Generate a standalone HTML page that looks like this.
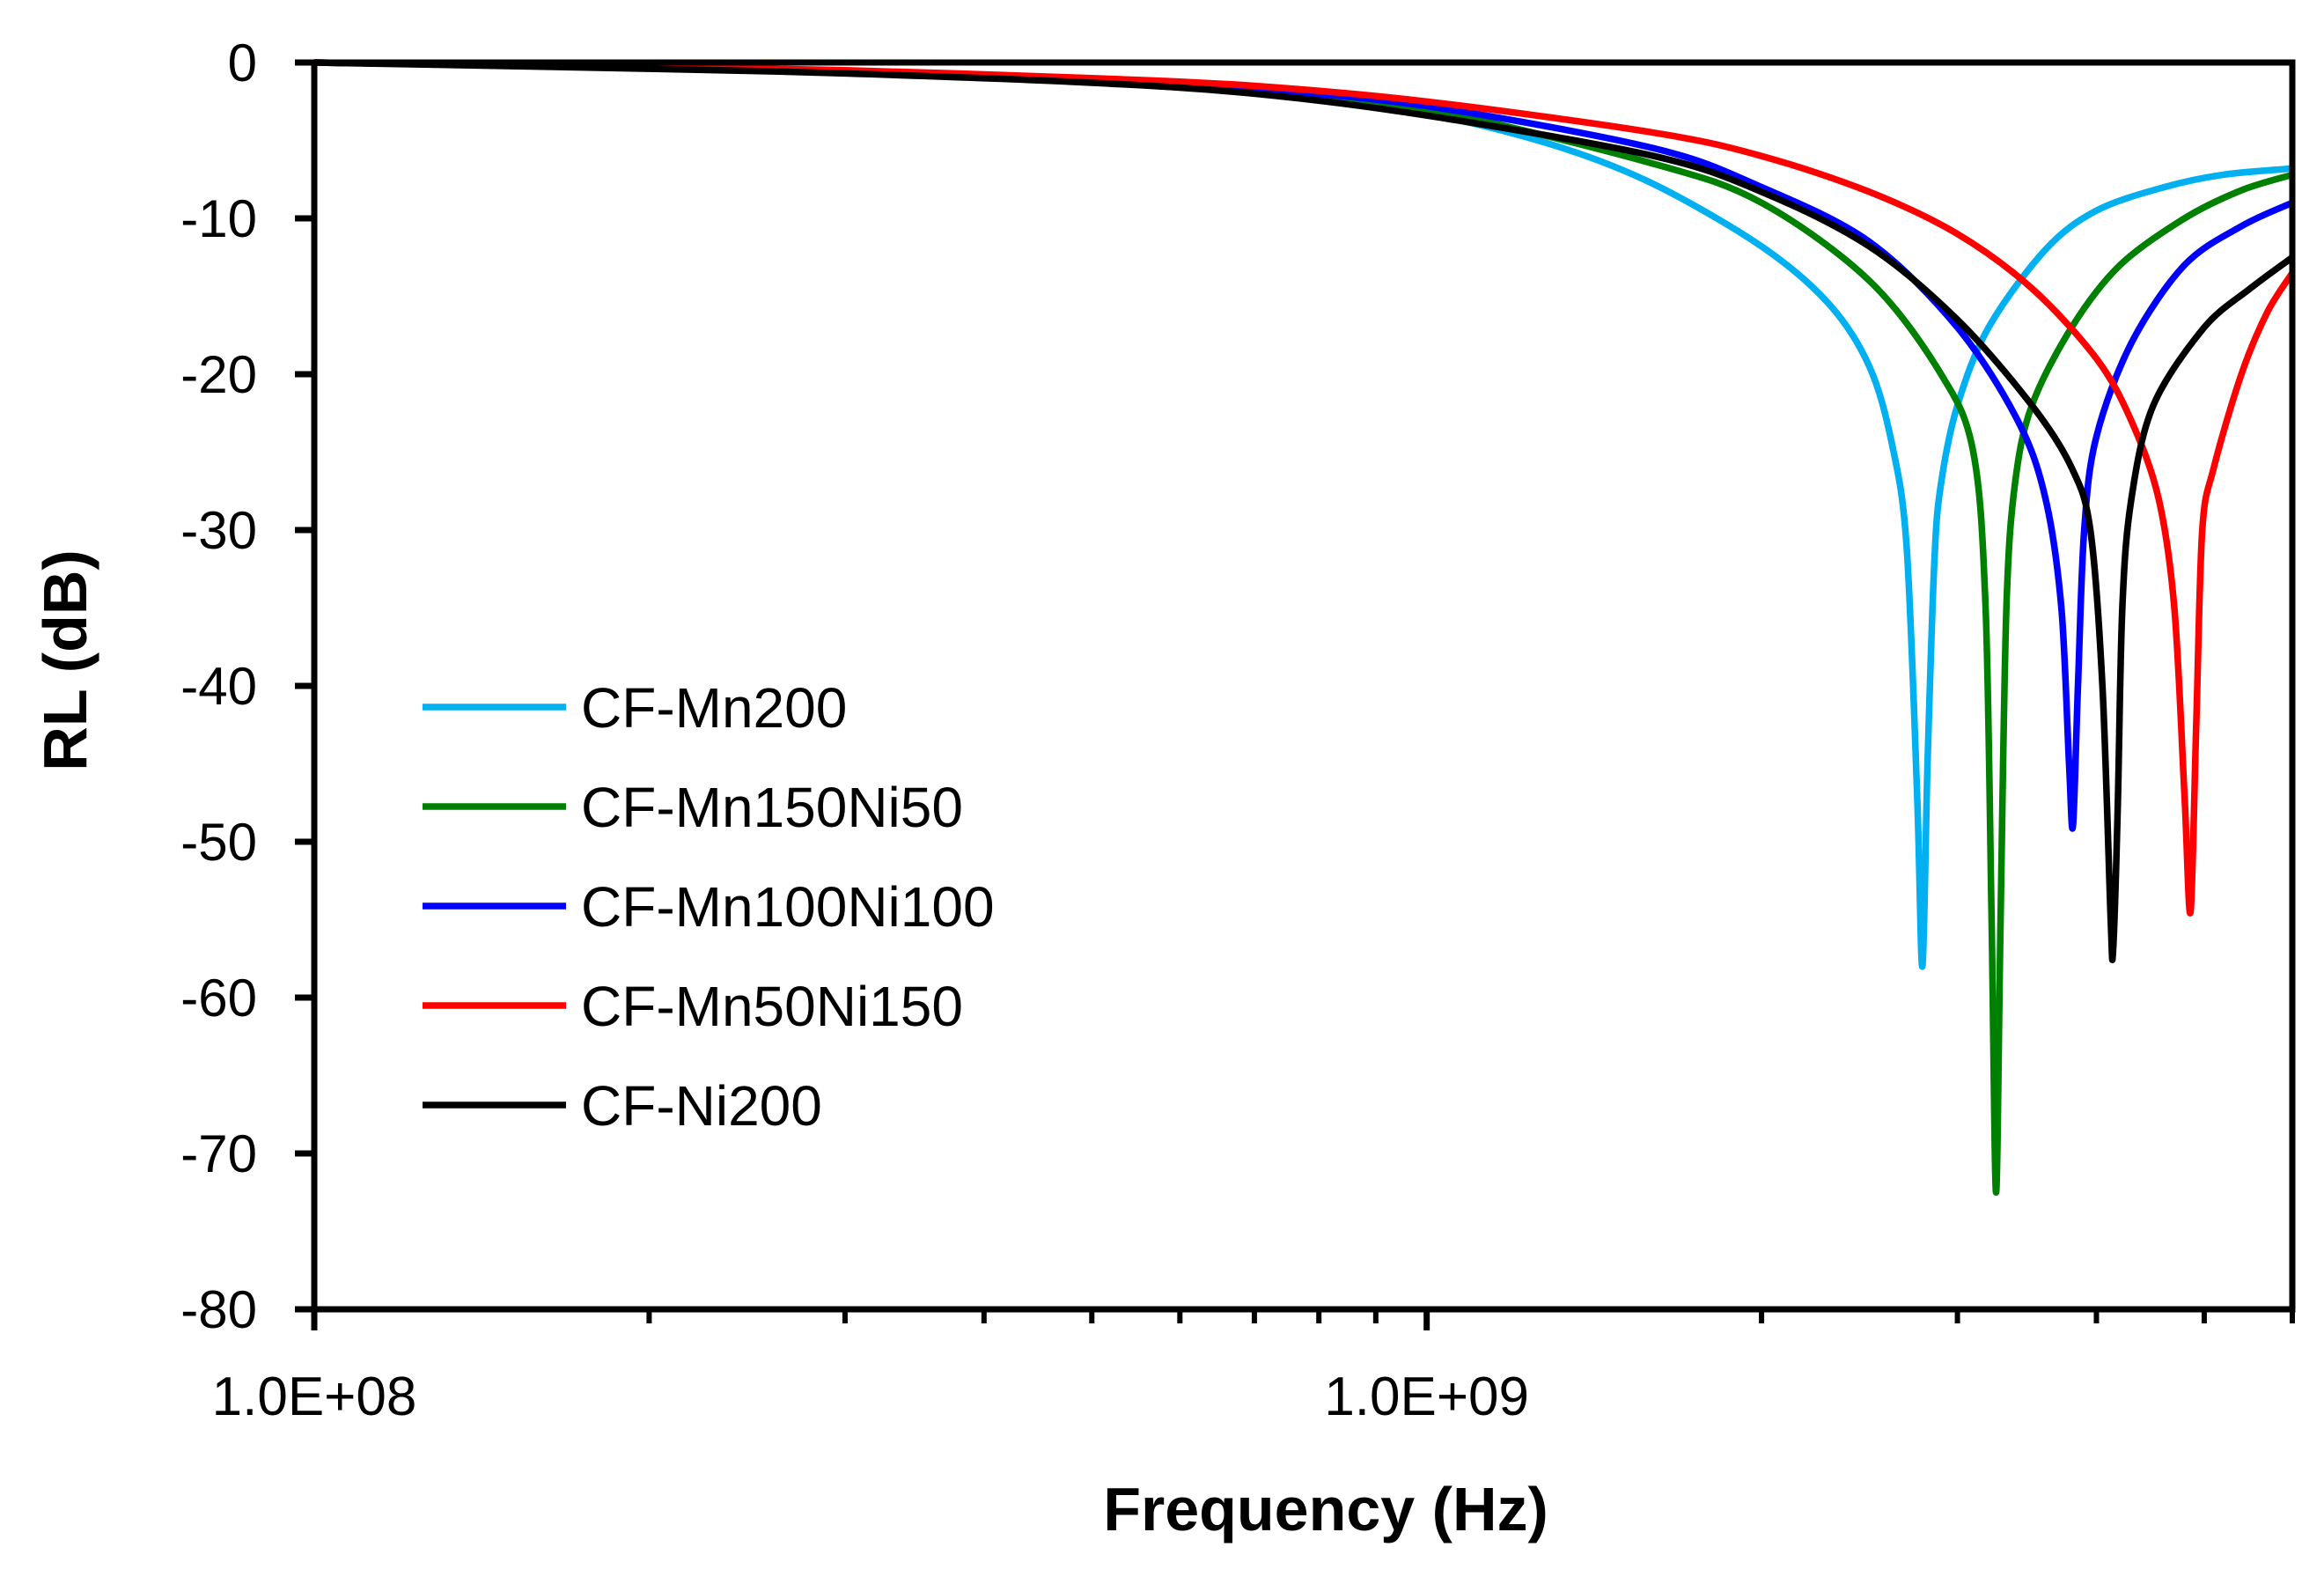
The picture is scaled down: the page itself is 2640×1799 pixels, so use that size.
<!DOCTYPE html>
<html><head><meta charset="utf-8"><style>
html,body{margin:0;padding:0;background:#fff;}
svg{display:block;}
text{font-family:"Liberation Sans",sans-serif;}
</style></head><body>
<svg id="chart" width="2640" height="1799" viewBox="0 0 2640 1799" xmlns="http://www.w3.org/2000/svg">
<g id="series"></g>
<g id="axes"></g>
<g id="legend"></g>
<text x="1506" y="1738" font-size="70" font-weight="bold" text-anchor="middle">Frequency (Hz)</text>
<text x="0" y="0" font-size="70" font-weight="bold" text-anchor="middle" transform="translate(98,750) rotate(-90)">RL (dB)</text>
</svg>
<script>
const seriesNames = ["CF-Mn200","CF-Mn150Ni50","CF-Mn100Ni100","CF-Mn50Ni150","CF-Ni200"];
const seriesColors = ["#00b0f0","#008000","#0000ff","#ff0000","#000000"];
const fMn200 = [0.1,0.2,0.3,0.5,0.7,1.0,1.3,1.6,2.0,2.3,2.5,2.62,2.7,2.76,2.79,2.82,2.86,2.9,3.0,3.2,3.6,4.0,4.6,5.2,6.0];
const rlMn200 = [0,-0.3,-0.6,-1.2,-1.9,-3.3,-5.3,-7.8,-11.8,-15.5,-19.5,-24.5,-31,-47,-58,-45,-32,-27,-22,-17,-12,-9.5,-8,-7.2,-6.8];
const fMn150 = [0.1,0.2,0.3,0.5,0.7,1.0,1.6,2.0,2.5,2.9,3.1,3.18,3.22,3.25,3.28,3.32,3.38,3.5,3.8,4.2,4.8,5.4,6.0];
const rlMn150 = [0,-0.3,-0.6,-1.1,-1.8,-3.0,-6.5,-9,-14,-20,-25,-35,-55,-72.5,-55,-35,-27,-22,-17,-13,-10,-8.2,-7.2];
const fMn100 = [0.1,0.2,0.3,0.5,0.7,1.0,1.6,2.0,2.5,3.0,3.4,3.6,3.72,3.78,3.81,3.85,3.9,4.0,4.3,4.8,5.4,6.0];
const rlMn100 = [0,-0.3,-0.6,-1.1,-1.7,-2.8,-5.5,-8,-11.5,-17,-23,-28,-35,-45,-49,-40,-30,-24,-18,-13,-10.5,-9];
const fMn50 = [0.1,0.2,0.3,0.5,0.7,1.0,1.6,2.0,2.5,3.0,3.5,4.0,4.3,4.55,4.7,4.8,4.86,4.92,4.98,5.1,5.4,5.7,6.0];
const rlMn50 = [0,-0.3,-0.5,-1.0,-1.5,-2.5,-4.5,-6,-8.3,-11,-14.5,-19,-23,-28,-35,-47,-54.5,-42,-30,-26,-20,-16,-13.5];
const fNi200 = [0.1,0.2,0.3,0.5,0.7,1.0,1.6,2.0,2.5,3.0,3.5,3.8,3.95,4.05,4.12,4.14,4.18,4.22,4.3,4.5,5.0,5.5,6.0];
const rlNi200 = [0,-0.4,-0.7,-1.3,-2.0,-3.4,-6,-8.3,-11.8,-16.5,-22,-26,-30,-40,-55,-57,-48,-35,-28,-22,-17,-14.5,-12.5];
const yTicks = [0,-10,-20,-30,-40,-50,-60,-70,-80];
const xMajor = [0.1,1.0];
const xMajorLabels = ["1.0E+08","1.0E+09"];
const xMinor = [0.2,0.3,0.4,0.5,0.6,0.7,0.8,0.9,2,3,4,5,6];

const L=357,R=2604,T=71,B=1487, XMIN=0.1, XMAX=6.0, YMIN=-80, YMAX=0;
const NS="http://www.w3.org/2000/svg";
function xs(f){return L+(Math.log10(f)-Math.log10(XMIN))/(Math.log10(XMAX)-Math.log10(XMIN))*(R-L);}
function ys(v){return T+(YMAX-v)/(YMAX-YMIN)*(B-T);}
function mk(tag,attrs,parent){const e=document.createElementNS(NS,tag);for(const k in attrs)e.setAttribute(k,attrs[k]);parent.appendChild(e);return e;}

const sg=document.getElementById('series');
const allF=[fMn200,fMn150,fMn100,fMn50,fNi200];
const allR=[rlMn200,rlMn150,rlMn100,rlMn50,rlNi200];
function smoothPath(px,py){
  let d="M"+px[0].toFixed(1)+","+py[0].toFixed(1);
  for(let i=0;i<px.length-1;i++){
    const x0=px[Math.max(i-1,0)],y0=py[Math.max(i-1,0)],x1=px[i],y1=py[i],x2=px[i+1],y2=py[i+1],x3=px[Math.min(i+2,px.length-1)],y3=py[Math.min(i+2,px.length-1)];
    const t=0.16;
    d+=" C"+(x1+(x2-x0)*t).toFixed(1)+","+(y1+(y2-y0)*t).toFixed(1)+" "+(x2-(x3-x1)*t).toFixed(1)+","+(y2-(y3-y1)*t).toFixed(1)+" "+x2.toFixed(1)+","+y2.toFixed(1);
  }
  return d;
}
for(let s=0;s<5;s++){
  const px=allF[s].map(xs), py=allR[s].map(ys);
  const p=mk('path',{d:smoothPath(px,py),fill:'none',stroke:seriesColors[s],'stroke-width':7.5,'stroke-linejoin':'round'},sg);
  
  
}

const ax=document.getElementById('axes');
const frame=mk('rect',{x:L,y:T,width:R-L,height:B-T,fill:'none',stroke:'#000','stroke-width':7},ax);


yTicks.forEach(v=>{
  const y=ys(v);
  const tk=mk('line',{x1:L-22,x2:L,y1:y,y2:y,stroke:'#000','stroke-width':7},ax);
  
  
  const t=mk('text',{x:292,y:y+21,'font-size':60,'text-anchor':'end'},ax);
  t.textContent=String(v);
  
  
});
xMajor.forEach((f,i)=>{
  const x=xs(f);
  const tk=mk('line',{x1:x,x2:x,y1:B,y2:B+24,stroke:'#000','stroke-width':7},ax);
  
  
  const t=mk('text',{x:x,y:1607,'font-size':62,'text-anchor':'middle'},ax);
  t.textContent=xMajorLabels[i];
  
  
});
xMinor.forEach(f=>{
  const x=xs(f);
  const tk=mk('line',{x1:x,x2:x,y1:B,y2:B+16,stroke:'#000','stroke-width':6},ax);
  
  
});

const lg=document.getElementById('legend');
for(let s=0;s<5;s++){
  const y=803+s*113;
  const g=mk('g',{},lg);
  
  
  mk('line',{x1:480,x2:643,y1:y,y2:y,stroke:seriesColors[s],'stroke-width':7.5},g);
  const t=mk('text',{x:660,y:y+23,'font-size':64},g);
  t.textContent=seriesNames[s];
}
</script>
</body></html>
